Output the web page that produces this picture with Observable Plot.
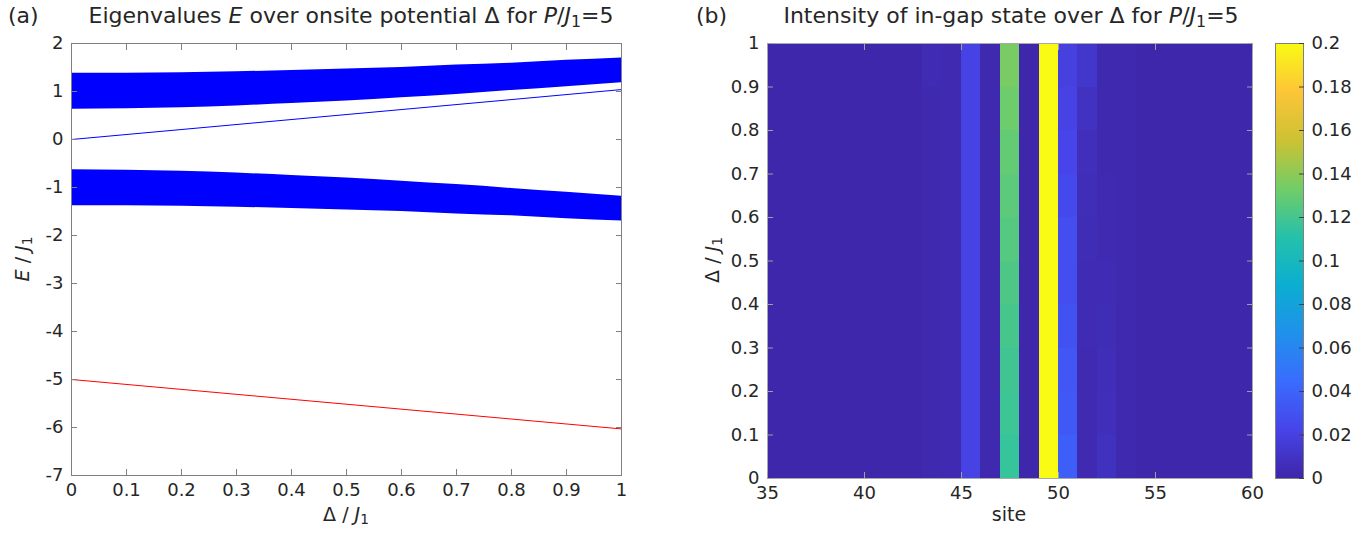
<!DOCTYPE html>
<html><head><meta charset="utf-8">
<script src="https://cdn.jsdelivr.net/npm/d3@7"></script>
<script src="https://cdn.jsdelivr.net/npm/@observablehq/plot@0.6"></script>
<style>
body{margin:0;background:#fff;font-family:"DejaVu Sans",sans-serif;}
#root{position:relative;width:1364px;height:533px;overflow:hidden;background:#fff;}
.abs{position:absolute;white-space:nowrap;color:#262626;line-height:1.2;}
.title{font-size:22px;}
.lab{font-size:19px;}
sub{font-size:0.72em;vertical-align:-0.25em;line-height:0;}
.svgwrap{position:absolute;top:0;}
</style></head><body>
<div id="root">
  <div class="abs title" style="left:8px;top:3px;">(a)</div>
  <div class="abs title" id="ta" style="left:351px;top:3px;transform:translateX(-50%);">Eigenvalues <i>E</i> over onsite potential Δ for <i>P</i>/<i>J</i><sub>1</sub>=5</div>
  <div class="abs title" style="left:696px;top:3px;">(b)</div>
  <div class="abs title" id="tb" style="left:1011px;top:3px;transform:translateX(-50%);">Intensity of in-gap state over Δ for <i>P</i>/<i>J</i><sub>1</sub>=5</div>
  <div class="abs lab" style="left:346px;top:503px;transform:translateX(-50%);">Δ / <i>J</i><sub>1</sub></div>
  <div class="abs lab" style="left:22px;top:259px;transform:translate(-50%,-50%) rotate(-90deg);"><i>E</i> / <i>J</i><sub>1</sub></div>
  <div class="abs lab" style="left:1009px;top:503px;transform:translateX(-50%);">site</div>
  <div class="abs lab" style="left:712px;top:260px;transform:translate(-50%,-50%) rotate(-90deg);">Δ / <i>J</i><sub>1</sub></div>
  <div class="svgwrap" id="pa" style="left:0px;"></div>
  <div class="svgwrap" id="pb" style="left:680px;"></div>
  <div class="svgwrap" id="pc" style="left:1262px;"></div>
</div>
<script>
// ---------- Panel (a) data ----------
const delta = [0, 0.1, 0.2, 0.3, 0.4, 0.5, 0.6, 0.7, 0.8, 0.9, 1];
const upperBandTop    = [1.38, 1.38, 1.39, 1.41, 1.44, 1.47, 1.50, 1.55, 1.59, 1.65, 1.70];
const upperBandBottom = [0.63, 0.64, 0.66, 0.70, 0.75, 0.80, 0.87, 0.94, 1.02, 1.10, 1.18];
const lowerBandTop    = [-0.63, -0.64, -0.66, -0.70, -0.75, -0.80, -0.87, -0.94, -1.02, -1.10, -1.18];
const lowerBandBottom = [-1.38, -1.38, -1.39, -1.41, -1.44, -1.47, -1.50, -1.55, -1.59, -1.65, -1.70];
const lineDelta = [0, 1];
const inGapState = [0, 1.04];
const boundState = [-5, -6.03];
const aXTicks = [0, 0.1, 0.2, 0.3, 0.4, 0.5, 0.6, 0.7, 0.8, 0.9, 1];
const aYTicks = [-7, -6, -5, -4, -3, -2, -1, 0, 1, 2];

// ---------- Panel (b) data ----------
const sites = [35,36,37,38,39,40,41,42,43,44,45,46,47,48,49,50,51,52,53,54,55,56,57,58,59];
const deltaRows = [0, 0.1, 0.2, 0.3, 0.4, 0.5, 0.6, 0.7, 0.8, 0.9];
// intensity[site index][Δ row], Δ rows from 0 to 0.9
const intensity = [
  [0.001,0.001,0.001,0.001,0.001,0.001,0.001,0.001,0.001,0.001], // 35
  [0.001,0.001,0.001,0.001,0.001,0.001,0.001,0.001,0.001,0.001], // 36
  [0.001,0.001,0.001,0.001,0.001,0.001,0.001,0.001,0.001,0.001], // 37
  [0.001,0.001,0.001,0.001,0.001,0.001,0.001,0.001,0.001,0.001], // 38
  [0.001,0.001,0.001,0.001,0.001,0.001,0.001,0.001,0.001,0.001], // 39
  [0.001,0.001,0.001,0.001,0.001,0.001,0.001,0.001,0.001,0.001], // 40
  [0.001,0.001,0.001,0.001,0.001,0.001,0.001,0.001,0.001,0.001], // 41
  [0.001,0.001,0.001,0.001,0.001,0.001,0.001,0.001,0.001,0.001], // 42
  [0.002,0.002,0.002,0.002,0.002,0.002,0.002,0.002,0.002,0.004], // 43
  [0.003,0.003,0.003,0.003,0.003,0.003,0.003,0.003,0.003,0.003], // 44
  [0.021,0.021,0.021,0.021,0.021,0.021,0.021,0.021,0.021,0.021], // 45
  [0.002,0.002,0.002,0.002,0.002,0.002,0.002,0.002,0.002,0.002], // 46
  [0.116,0.118,0.119,0.121,0.123,0.125,0.127,0.129,0.132,0.135], // 47
  [0.001,0.001,0.001,0.001,0.001,0.001,0.001,0.001,0.001,0.001], // 48
  [0.210,0.210,0.210,0.210,0.210,0.210,0.210,0.210,0.210,0.210], // 49
  [0.037,0.034,0.032,0.030,0.028,0.027,0.025,0.023,0.021,0.019], // 50
  [0.003,0.003,0.003,0.004,0.004,0.005,0.006,0.007,0.009,0.012], // 51
  [0.008,0.007,0.006,0.005,0.004,0.003,0.003,0.002,0.002,0.002], // 52
  [0.002,0.002,0.002,0.002,0.002,0.002,0.002,0.002,0.002,0.002], // 53
  [0.001,0.001,0.001,0.001,0.001,0.001,0.001,0.001,0.001,0.001], // 54
  [0.001,0.001,0.001,0.001,0.001,0.001,0.001,0.001,0.001,0.001], // 55
  [0.001,0.001,0.001,0.001,0.001,0.001,0.001,0.001,0.001,0.001], // 56
  [0.001,0.001,0.001,0.001,0.001,0.001,0.001,0.001,0.001,0.001], // 57
  [0.001,0.001,0.001,0.001,0.001,0.001,0.001,0.001,0.001,0.001], // 58
  [0.001,0.001,0.001,0.001,0.001,0.001,0.001,0.001,0.001,0.001]  // 59
];
const siteWidth = 1;
const rowHeight = 0.1;
const bXTicks = [35, 40, 45, 50, 55, 60];
const bYTicks = [0, 0.1, 0.2, 0.3, 0.4, 0.5, 0.6, 0.7, 0.8, 0.9, 1];
const cbDomain = [0, 0.2];
const cbTicks = [0, 0.02, 0.04, 0.06, 0.08, 0.1, 0.12, 0.14, 0.16, 0.18, 0.2];
const parula = ["#3e26a8","#4744e8","#3a6cfe","#2091eb","#0baed1","#25c1aa","#72cd67","#cdc233","#fdc538","#f9fb14"];

// ---------- shared styles ----------
const axisGray = "#808080";
const textCol = "#262626";
const fmt = d => String(+(+d).toFixed(2));
const baseStyle = {fontFamily: "DejaVu Sans, sans-serif", fontSize: "18px", color: textCol, background: "transparent", overflow: "visible"};

function boxAxes(xt, yt, stroke, opts = {}) {
  const tk = opts.tick ?? 6;
  return [
    Plot.axisX({anchor: "bottom", ticks: xt, tickSize: tk, inset: tk, tickPadding: 8, stroke, fill: textCol, tickFormat: fmt, label: null}),
    Plot.axisX({anchor: "top", ticks: xt, tickSize: tk, inset: tk, stroke, tickFormat: () => "", label: null}),
    Plot.axisY({anchor: "left", ticks: yt, tickSize: tk, inset: tk, tickPadding: 8, stroke, fill: textCol, tickFormat: fmt, label: null}),
    Plot.axisY({anchor: "right", ticks: yt, tickSize: tk, inset: tk, stroke, tickFormat: () => "", label: null})
  ];
}

// ---------- Panel (a) ----------
const bandData = delta.map((d, i) => ({d, ut: upperBandTop[i], ub: upperBandBottom[i], lt: lowerBandTop[i], lb: lowerBandBottom[i]}));
const lineData = lineDelta.map((d, i) => ({d, g: inGapState[i], r: boundState[i]}));

const plotA = Plot.plot({
  width: 650, height: 533,
  marginLeft: 71, marginRight: 29, marginTop: 43, marginBottom: 58,
  x: {domain: [0, 1]},
  y: {domain: [-7, 2]},
  style: baseStyle,
  marks: [
    Plot.areaY(bandData, {x: "d", y1: "ub", y2: "ut", fill: "#0000ff", curve: "monotone-x"}),
    Plot.areaY(bandData, {x: "d", y1: "lb", y2: "lt", fill: "#0000ff", curve: "monotone-x"}),
    Plot.lineY(lineData, {x: "d", y: "g", stroke: "#0000ff", strokeWidth: 1}),
    Plot.lineY(lineData, {x: "d", y: "r", stroke: "#ff0000", strokeWidth: 1}),
    Plot.frame({stroke: axisGray}),
    ...boxAxes(aXTicks, aYTicks, axisGray)
  ]
});
document.getElementById("pa").append(plotA);

// ---------- Panel (b) ----------
const cells = [];
sites.forEach((s, i) => deltaRows.forEach((r, j) => cells.push({s, s2: s + siteWidth, r, r2: r + rowHeight, v: intensity[i][j]})));
const colorScale = {type: "linear", domain: cbDomain, interpolate: d3.piecewise(d3.interpolateRgb, parula), clamp: true};

const plotB = Plot.plot({
  width: 684, height: 533,
  marginLeft: 87, marginRight: 112, marginTop: 43, marginBottom: 55,
  x: {domain: [35, 60]},
  y: {domain: [0, 1]},
  color: colorScale,
  style: baseStyle,
  marks: [
    Plot.rect(cells, {x1: "s", x2: "s2", y1: "r", y2: "r2", fill: "v", shapeRendering: "crispEdges"}),
    Plot.frame({stroke: "#a8a8a8"}),
    ...boxAxes(bXTicks, bYTicks, "#a0a0a0")
  ]
});
document.getElementById("pb").append(plotB);

// ---------- Colorbar ----------
const plotC = Plot.plot({
  width: 102, height: 533,
  marginLeft: 13, marginRight: 61, marginTop: 43, marginBottom: 55,
  x: {domain: [0, 1], axis: null},
  y: {domain: cbDomain},
  color: colorScale,
  style: baseStyle,
  marks: [
    Plot.raster({x1: 0, x2: 1, y1: cbDomain[0], y2: cbDomain[1], fill: (x, y) => y, imageRendering: "auto"}),
    Plot.frame({stroke: axisGray}),
    Plot.axisY({anchor: "right", ticks: cbTicks, tickSize: 5, inset: 5, tickPadding: 8, stroke: "#404040", fill: textCol, tickFormat: fmt, label: null})
  ]
});
document.getElementById("pc").append(plotC);
</script>
</body></html>
